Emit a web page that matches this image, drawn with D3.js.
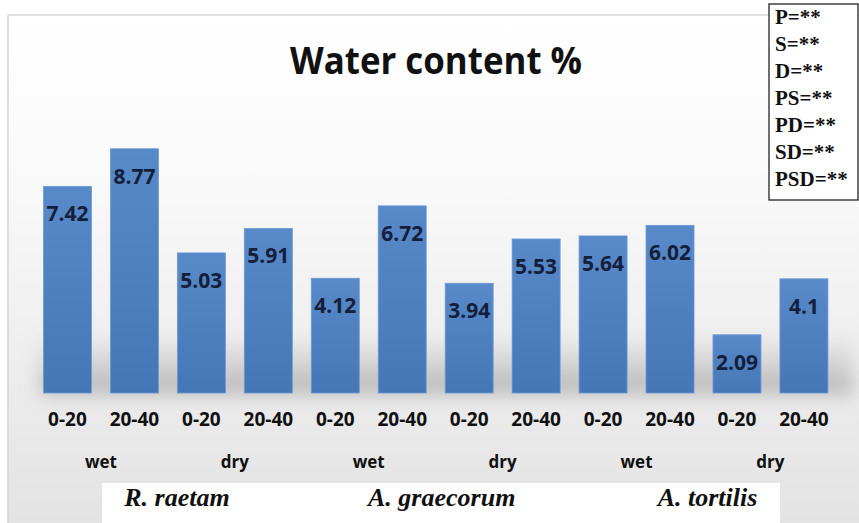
<!DOCTYPE html>
<html><head><meta charset="utf-8">
<script src="https://cdn.jsdelivr.net/npm/d3@7/dist/d3.min.js"></script>
<style>html,body{margin:0;padding:0;background:#fff;}svg{display:block;}</style>
</head><body>
<script>
const depths = ["0-20","20-40","0-20","20-40","0-20","20-40","0-20","20-40","0-20","20-40","0-20","20-40"];
const seasons = ["wet","dry","wet","dry","wet","dry"];
const species = ["R. raetam","A. graecorum","A. tortilis"];
const values = [7.42, 8.77, 5.03, 5.91, 4.12, 6.72, 3.94, 5.53, 5.64, 6.02, 2.09, 4.1];
const legendItems = ["P=**","S=**","D=**","PS=**","PD=**","SD=**","PSD=**"];
const title = "Water content %";

const W = 859, H = 523;
const svg = d3.select("body").append("svg").attr("width", W).attr("height", H);
const defs = svg.append("defs");

const bg = defs.append("linearGradient").attr("id","bg").attr("x1",0).attr("y1",0).attr("x2",0).attr("y2",1);
bg.append("stop").attr("offset","0%").attr("stop-color","#ffffff");
bg.append("stop").attr("offset","30%").attr("stop-color","#fafafa");
bg.append("stop").attr("offset","100%").attr("stop-color","#e3e3e3");

const bar = defs.append("linearGradient").attr("id","bar").attr("x1",0).attr("y1",0).attr("x2",0).attr("y2",1);
bar.append("stop").attr("offset","0%").attr("stop-color","#5889c9");
bar.append("stop").attr("offset","100%").attr("stop-color","#4577b7");

const sh = defs.append("linearGradient").attr("id","sh").attr("x1",0).attr("y1",0).attr("x2",0).attr("y2",1);
sh.append("stop").attr("offset","0%").attr("stop-color","#999").attr("stop-opacity",0);
sh.append("stop").attr("offset","100%").attr("stop-color","#888").attr("stop-opacity",0.55);
defs.append("filter").attr("id","blur").attr("x","-10%").attr("y","-50%").attr("width","120%").attr("height","200%")
  .append("feGaussianBlur").attr("stdDeviation",9);

// background & frame
svg.append("rect").attr("x",0).attr("y",0).attr("width",W).attr("height",H).attr("fill","#fff");
svg.append("rect").attr("x",8).attr("y",15).attr("width",W-8).attr("height",H-15).attr("fill","url(#bg)");
svg.append("line").attr("x1",8).attr("x2",W).attr("y1",15).attr("y2",15).attr("stroke","#d4d4d4").attr("stroke-width",1.5);
svg.append("line").attr("x1",8).attr("x2",8).attr("y1",15).attr("y2",H).attr("stroke","#d4d4d4").attr("stroke-width",1.5);

const x = d3.scaleBand().domain(d3.range(values.length)).range([34, 837.4]).paddingInner(0.283).paddingOuter(0.1415);
const y = d3.scaleLinear().domain([0, 9]).range([393, 393 - 9*27.85]);

// shadow
svg.append("rect").attr("x", x(0)-4).attr("y", y(0)-60).attr("width", x(11)+x.bandwidth()+30-x(0)).attr("height", 62)
  .attr("fill","url(#sh)").attr("filter","url(#blur)");

// bars
svg.selectAll("rect.bar").data(values).join("rect").attr("class","bar")
  .attr("x",(d,i)=>x(i)).attr("y",d=>y(d)).attr("width",x.bandwidth()).attr("height",d=>y(0)-y(d))
  .attr("fill","url(#bar)").attr("stroke","#6b9ad4").attr("stroke-width",0.8);

// value labels
svg.selectAll("text.val").data(values).join("text").attr("class","val")
  .attr("x",(d,i)=>x(i)+x.bandwidth()/2).attr("y",d=>y(d)+35)
  .attr("text-anchor","middle").attr("font-family","'Open Sans', sans-serif").attr("font-weight","bold")
  .attr("font-size",21).attr("fill","#14203a").text(d=>d);

// depth tick labels via axis
const ax = svg.append("g").attr("transform",`translate(0,${y(0)})`)
  .call(d3.axisBottom(x).tickFormat(i=>depths[i]).tickSize(0).tickPadding(20));
ax.select(".domain").remove();
ax.selectAll("text").attr("font-family","'Open Sans', sans-serif").attr("font-weight","bold").attr("font-size",19).attr("fill","#111");

// season labels
svg.selectAll("text.season").data(seasons).join("text").attr("class","season")
  .attr("x",(d,i)=>(x(2*i)+x(2*i+1)+x.bandwidth())/2).attr("y",468)
  .attr("text-anchor","middle").attr("font-family","'Open Sans', sans-serif").attr("font-weight","bold")
  .attr("font-size",17).attr("fill","#111").text(d=>d);

// species box
svg.append("rect").attr("x",102).attr("y",483).attr("width",678).attr("height",H-483).attr("fill","#fff");
svg.selectAll("text.sp").data(species).join("text").attr("class","sp")
  .attr("x",(d,i)=>(x(4*i)+x(4*i+3)+x.bandwidth())/2 + [9,6,4][i]).attr("y",506)
  .attr("text-anchor","middle").attr("font-family","'Liberation Serif', 'Times New Roman', serif")
  .attr("font-style","italic").attr("font-weight","bold").attr("font-size",26).attr("fill","#111").text(d=>d);

// title
svg.append("text").attr("x",436).attr("y",74).attr("text-anchor","middle")
  .attr("font-family","'Open Sans', sans-serif").attr("font-weight","bold").attr("font-size",37)
  .attr("textLength",292).attr("lengthAdjust","spacingAndGlyphs").attr("fill","#111").text(title);

// legend box
svg.append("rect").attr("x",769).attr("y",4).attr("width",89).attr("height",196)
  .attr("fill","#fff").attr("stroke","#222").attr("stroke-width",1.3);
svg.selectAll("text.leg").data(legendItems).join("text").attr("class","leg")
  .attr("x",775).attr("y",(d,i)=>24+i*27)
  .attr("font-family","'Liberation Serif', 'Times New Roman', serif").attr("font-weight","bold")
  .attr("font-size",21).attr("fill","#111").text(d=>d);
</script>
</body></html>
